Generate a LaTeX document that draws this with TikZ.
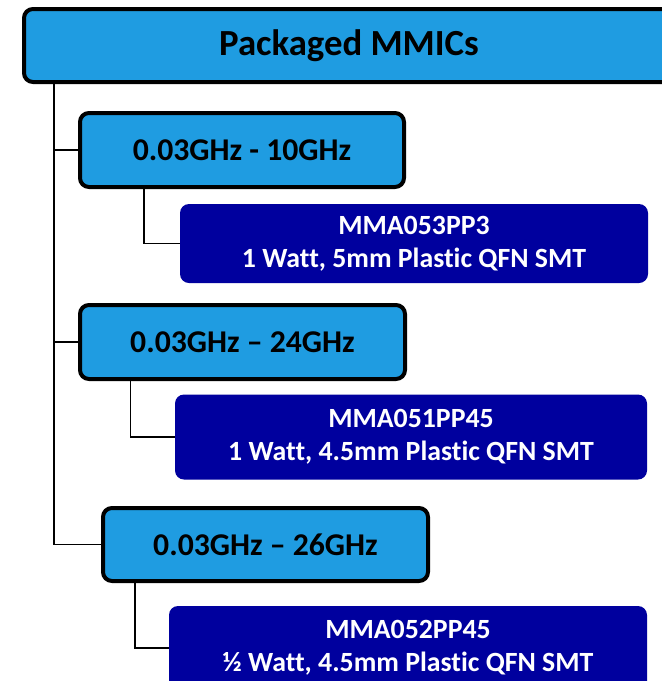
\documentclass[tikz,border=0pt]{standalone}
\usepackage{fontspec}
\setmainfont{Carlito}[RawFeature={-liga,-clig,-dlig,-calt}]
\definecolor{lblue}{RGB}{31,156,225}
\definecolor{dblue}{RGB}{0,0,158}
\newcommand{\plst}{Plast\kern0pt ic}
\tikzset{
  lbox/.style={draw=black, line width=4pt, fill=lblue, rounded corners=9pt, inner sep=0pt, align=center, font=\fontsize{31.7}{36}\selectfont\bfseries},
  topbox/.style={lbox, font=\fontsize{36.8}{42}\selectfont\bfseries},
  dbox/.style={fill=dblue, rounded corners=9pt, inner sep=0pt, align=center, text=white, font=\fontsize{27.8}{33}\selectfont\bfseries},
  conn/.style={draw=black, line width=1.5pt}
}
\begin{document}
\begin{tikzpicture}[x=1pt,y=-1pt]
\clip (0,0) rectangle (662,681);
\fill[white] (0,0) rectangle (662,681);
\node[topbox, minimum width=650pt, minimum height=73pt] (top) at (349,45.5) {Packaged MMICs};
\node[lbox, minimum width=324pt, minimum height=74pt] (r1) at (242,150) {0.03GHz - 10GHz};
\node[lbox, minimum width=325pt, minimum height=74pt] (r2) at (242.5,342) {0.03GHz – 24GHz};
\node[lbox, minimum width=325pt, minimum height=73pt] (r3) at (265.5,544.5) {0.03GHz – 26GHz};
\node[dbox, minimum width=468pt, minimum height=79pt] (d1) at (414,243.5) {MMA053PP3\\1 Watt, 5mm \plst{} QFN SMT};
\node[dbox, minimum width=472pt, minimum height=85pt] (d2) at (411,437) {MMA051PP45\\1 Watt, 4.5mm \plst{} QFN SMT};
\node[dbox, minimum width=478pt, minimum height=84pt] (d3) at (408,648) {MMA052PP45\\½ Watt, 4.5mm \plst{} QFN SMT};
\coordinate (t) at (54,81);
\draw[conn] (t) |- (r1.west);
\draw[conn] (t) |- (r2.west);
\draw[conn] (t) |- (r3.west);
\draw[conn] ([xshift=66pt]r1.south west) |- (d1.west);
\draw[conn] ([xshift=52.5pt]r2.south west) |- (d2.west);
\draw[conn] ([xshift=34pt]r3.south west) |- (d3.west);
\end{tikzpicture}
\end{document}
